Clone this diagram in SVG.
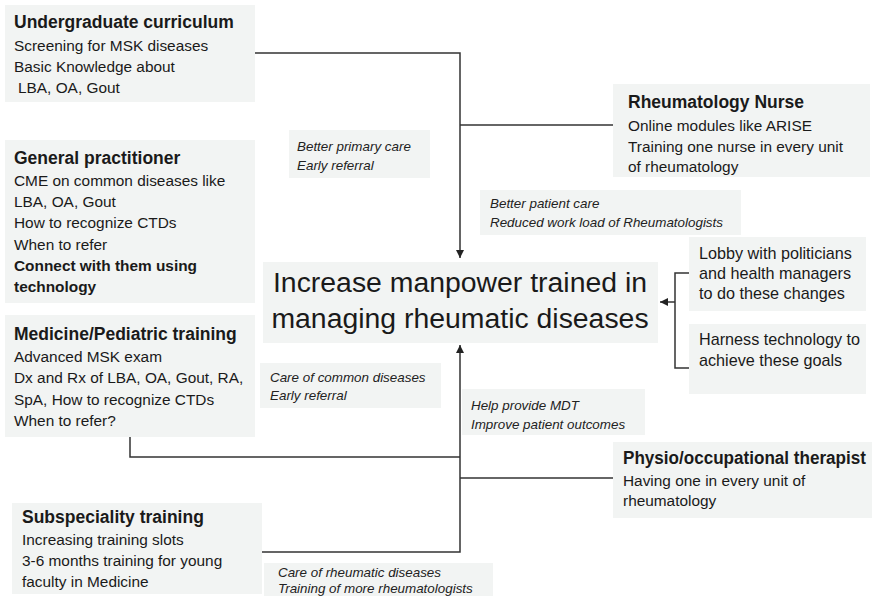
<svg xmlns="http://www.w3.org/2000/svg" width="877" height="596" viewBox="0 0 877 596">
<defs>
<marker id="ah" viewBox="0 0 10 10" refX="10" refY="5" markerWidth="8" markerHeight="8" markerUnits="userSpaceOnUse" orient="auto">
<path d="M0,0 L10,5 L0,10 z" fill="#222"/>
</marker>
<style>
.box{fill:#f2f4f3;stroke:none}
.t{font-family:"Liberation Sans",Arial,sans-serif;fill:#1a1a1a}
.h{font-size:17.5px;font-weight:bold}
.b{font-size:15.4px}
.bb{font-size:15.4px;font-weight:bold}
.l{font-size:16.2px}
.i{font-size:13.4px;font-style:italic;fill:#222}
.c{font-size:28.4px}
.ln{fill:none;stroke:#333;stroke-width:1.5}
</style>
</defs>
<rect width="877" height="596" fill="#fff"/>
<g id="connectors">
<polyline class="ln" points="255,53 460,53 460,258" marker-end="url(#ah)"/>
<line class="ln" x1="460" y1="125" x2="613" y2="125"/>
<polyline class="ln" points="262,552 460,552 460,345" marker-end="url(#ah)"/>
<polyline class="ln" points="130,437 130,457 460,457"/>
<line class="ln" x1="460" y1="478" x2="613" y2="478"/>
<polyline class="ln" points="689,273 675,273 675,368 689,368"/>
<line class="ln" x1="675" y1="302" x2="660" y2="302" marker-end="url(#ah)"/>
</g>
<g id="undergraduate">
<rect class="box" x="5" y="5" width="250" height="97"/>
<text class="t h" x="14" y="28">Undergraduate curriculum</text>
<text class="t b" x="14" y="51">Screening for MSK diseases</text>
<text class="t b" x="14" y="72">Basic Knowledge about</text>
<text class="t b" x="18" y="93">LBA, OA, Gout</text>
</g>
<g id="nurse">
<rect class="box" x="613" y="84" width="257" height="93"/>
<text class="t h" x="628" y="108">Rheumatology Nurse</text>
<text class="t b" x="628" y="131">Online modules like ARISE</text>
<text class="t b" x="628" y="152">Training one nurse in every unit</text>
<text class="t b" x="628" y="172">of rheumatology</text>
</g>
<g id="gp">
<rect class="box" x="5" y="140" width="250" height="163"/>
<text class="t h" x="14" y="164">General practitioner</text>
<text class="t b" x="14" y="186">CME on common diseases like</text>
<text class="t b" x="14" y="207">LBA, OA, Gout</text>
<text class="t b" x="14" y="228">How to recognize CTDs</text>
<text class="t b" x="14" y="250">When to refer</text>
<text class="t bb" x="14" y="271">Connect with them using</text>
<text class="t bb" x="14" y="292">technology</text>
</g>
<g id="label-primary">
<rect class="box" x="289" y="130" width="141" height="48"/>
<text class="t i" x="297" y="151">Better primary care</text>
<text class="t i" x="297" y="170">Early referral</text>
</g>
<g id="label-patient">
<rect class="box" x="480" y="190" width="261" height="45"/>
<text class="t i" x="490" y="208">Better patient care</text>
<text class="t i" x="490" y="227">Reduced work load of Rheumatologists</text>
</g>
<g id="center">
<rect class="box" x="263" y="262" width="395" height="81"/>
<text class="t c" x="460" y="292" text-anchor="middle">Increase manpower trained in</text>
<text class="t c" x="460" y="328" text-anchor="middle">managing rheumatic diseases</text>
</g>
<g id="lobby">
<rect class="box" x="689" y="237" width="177" height="74"/>
<text class="t l" x="699" y="259">Lobby with politicians</text>
<text class="t l" x="699" y="279">and health managers</text>
<text class="t l" x="699" y="299">to do these changes</text>
</g>
<g id="harness">
<rect class="box" x="689" y="324" width="177" height="70"/>
<text class="t l" x="699" y="345">Harness technology to</text>
<text class="t l" x="699" y="366">achieve these goals</text>
</g>
<g id="medicine">
<rect class="box" x="5" y="315" width="250" height="122"/>
<text class="t h" x="14" y="340">Medicine/Pediatric training</text>
<text class="t b" x="14" y="362">Advanced MSK exam</text>
<text class="t b" x="14" y="383">Dx and Rx of LBA, OA, Gout, RA,</text>
<text class="t b" x="14" y="405">SpA, How to recognize CTDs</text>
<text class="t b" x="14" y="426">When to refer?</text>
</g>
<g id="label-common">
<rect class="box" x="260" y="363" width="181" height="45"/>
<text class="t i" x="270" y="382">Care  of common diseases</text>
<text class="t i" x="270" y="400">Early referral</text>
</g>
<g id="label-mdt">
<rect class="box" x="462" y="389" width="183" height="46"/>
<text class="t i" x="471" y="410">Help provide MDT</text>
<text class="t i" x="471" y="429">Improve patient outcomes</text>
</g>
<g id="physio">
<rect class="box" x="613" y="442" width="259" height="76"/>
<text class="t h" x="623" y="464" textLength="243" lengthAdjust="spacingAndGlyphs">Physio/occupational therapist</text>
<text class="t b" x="623" y="486">Having one in every unit of</text>
<text class="t b" x="623" y="506">rheumatology</text>
</g>
<g id="subspeciality">
<rect class="box" x="12" y="503" width="250" height="91"/>
<text class="t h" x="22" y="523">Subspeciality training</text>
<text class="t b" x="22" y="545">Increasing training slots</text>
<text class="t b" x="22" y="566">3-6 months training for young</text>
<text class="t b" x="22" y="587">faculty in Medicine</text>
</g>
<g id="label-rheum">
<rect class="box" x="264" y="563" width="229" height="33"/>
<text class="t i" x="278" y="577">Care  of rheumatic diseases</text>
<text class="t i" x="278" y="593">Training of more rheumatologists</text>
</g>
</svg>
